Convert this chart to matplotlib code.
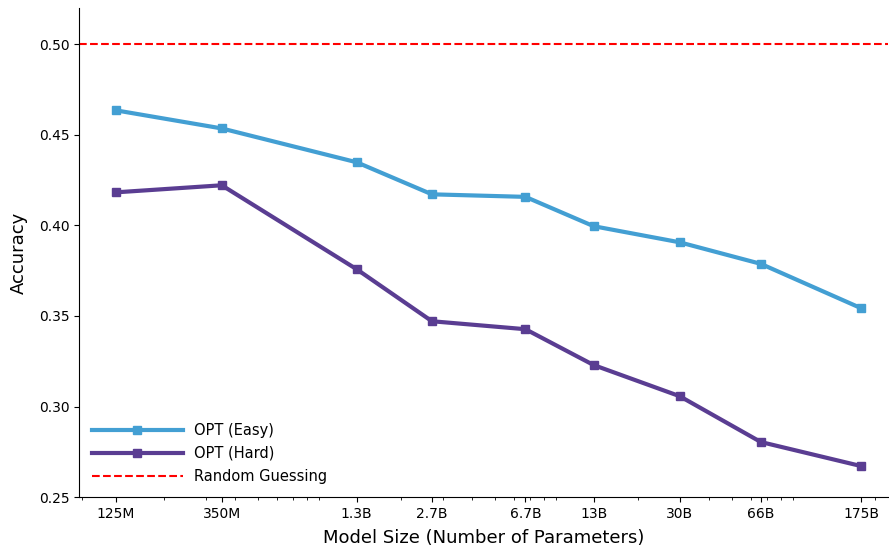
import matplotlib
matplotlib.use("Agg")
import matplotlib.pyplot as plt
import numpy as np

sizes = [125e6, 350e6, 1.3e9, 2.7e9, 6.7e9, 13e9, 30e9, 66e9, 175e9]
tick_labels = ["125M", "350M", "1.3B", "2.7B", "6.7B", "13B", "30B", "66B", "175B"]
easy = [0.4636, 0.4536, 0.4349, 0.4172, 0.4158, 0.3996, 0.3907, 0.3788, 0.3543]
hard = [0.4183, 0.4222, 0.3758, 0.3471, 0.3427, 0.3229, 0.3057, 0.2804, 0.2671]
random_guess = 0.5

fig = plt.figure(figsize=(8.89, 5.48), dpi=100)
ax = fig.add_axes([0.089, 0.093, 0.91, 0.892])

ax.plot(sizes, easy, color="#439fd3", lw=3, marker="s", ms=6, label="OPT (Easy)")
ax.plot(sizes, hard, color="#5a3d92", lw=3, marker="s", ms=6, label="OPT (Hard)")
ax.axhline(random_guess, color="red", ls="--", lw=1.5, label="Random Guessing")

ax.set_xscale("log")
ax.set_xticks(sizes)
ax.set_xticklabels(tick_labels)
ax.set_xlim(87.5e6, 227.5e9)
ax.set_ylim(0.25, 0.52)
ax.set_yticks([0.25, 0.30, 0.35, 0.40, 0.45, 0.50])
ax.set_yticklabels(["0.25", "0.30", "0.35", "0.40", "0.45", "0.50"])
ax.tick_params(labelsize=10)
ax.spines["top"].set_visible(False)
ax.spines["right"].set_visible(False)
ax.set_xlabel("Model Size (Number of Parameters)", fontsize=13, labelpad=6)
ax.set_ylabel("Accuracy", fontsize=13, labelpad=8)
ax.legend(loc="lower left", frameon=False, fontsize=10.5, handlelength=6.2,
          handletextpad=0.75, labelspacing=0.55)

fig.savefig("out.png", dpi=100)
